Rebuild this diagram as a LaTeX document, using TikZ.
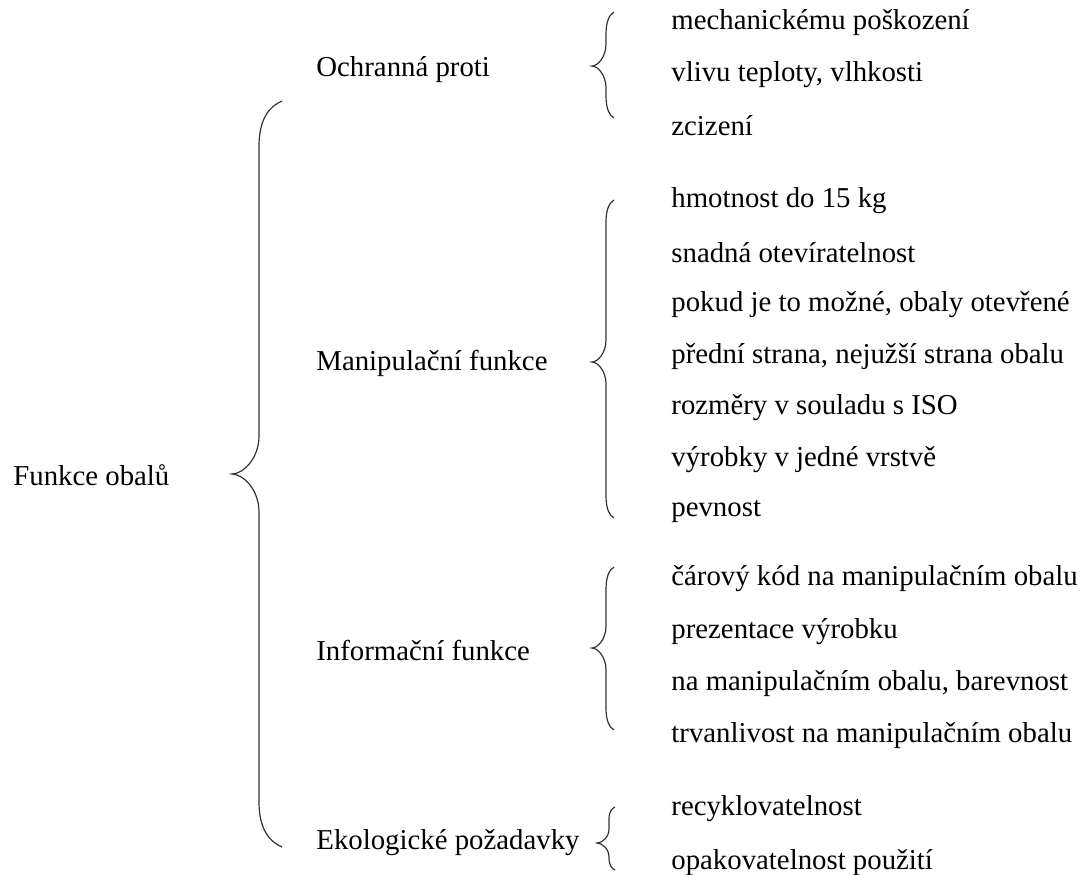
\documentclass[tikz,border=0pt]{standalone}
\usepackage{fontspec}
\setmainfont{Liberation Serif}
\usetikzlibrary{positioning,calc}
\tikzset{
  lbl/.style={anchor=west,inner sep=0pt,font=\fontsize{14.4}{17}\selectfont},
  brc/.style={line width=0.6pt,black!80},
}
% curly brace: tip x, stem x, end x, top y, tip y, bottom y, end bend, tip bend
\newcommand\curlybr[8]{%
  \draw[brc] (#3,#4) .. controls ({#3-0.55*(#3-#2)},{#4+0.12*#7}) and (#2,{#4+0.4*#7}) .. (#2,{#4+#7})
    -- (#2,{#5-#8})
    .. controls (#2,{#5-0.4*#8}) and ({#1+0.4*(#2-#1)},#5) .. (#1,#5)
    .. controls ({#1+0.4*(#2-#1)},#5) and (#2,{#5+0.4*#8}) .. (#2,{#5+#8})
    -- (#2,{#6-#7})
    .. controls (#2,{#6-0.4*#7}) and ({#3-0.55*(#3-#2)},{#6-0.12*#7}) .. (#3,#6);}

\begin{document}
\begin{tikzpicture}[x=0.5pt,y=-0.5pt]
  \useasboundingbox (0,0) rectangle (1085,874);
  \node[lbl] (root) at (13,475) {Funkce obalů};
  \curlybr{232}{259}{282}{101}{474}{847}{45}{38}
  % skupiny
  \node[lbl] (ochr) at (316,70) {Ochranná proti};
  \node[lbl] (manip) at (316,363) {Manipulační funkce};
  \node[lbl] (info) at (316,650) {Informační funkce};
  \node[lbl] (eko) at (316,843) {Ekologické požadavky};
  \curlybr{592}{606}{614}{12}{66}{118}{22}{22}
  \curlybr{592}{606}{614}{200}{362}{518}{22}{22}
  \curlybr{592}{606}{614}{567}{648}{730}{22}{22}
  \curlybr{597}{609}{615}{807}{843}{870}{12}{14}
  % polozky
  \foreach \t [count=\i] in {mechanickému poškození,{vlivu teploty, vlhkosti},zcizení}
    \node[lbl] (o\i) at (671,{23+51.5*(\i-1)}) {\t};
  \foreach \t [count=\i] in {hmotnost do 15 kg,snadná otevíratelnost,
      {pokud je to možné, obaly otevřené},{přední strana, nejužší strana obalu},
      rozměry v souladu s ISO,výrobky v jedné vrstvě,pevnost}
    \node[lbl] (m\i) at (671,{201+51.7*(\i-1)}) {\t};
  \foreach \t [count=\i] in {čárový kód na manipulačním obalu,prezentace výrobku,
      {na manipulačním obalu, barevnost},trvanlivost na manipulačním obalu}
    \node[lbl] (i\i) at (671,{579+52.3*(\i-1)}) {\t};
  \foreach \t [count=\i] in {recyklovatelnost,opakovatelnost použití}
    \node[lbl] (e\i) at (671,{809+54*(\i-1)}) {\t};
\end{tikzpicture}
\end{document}
